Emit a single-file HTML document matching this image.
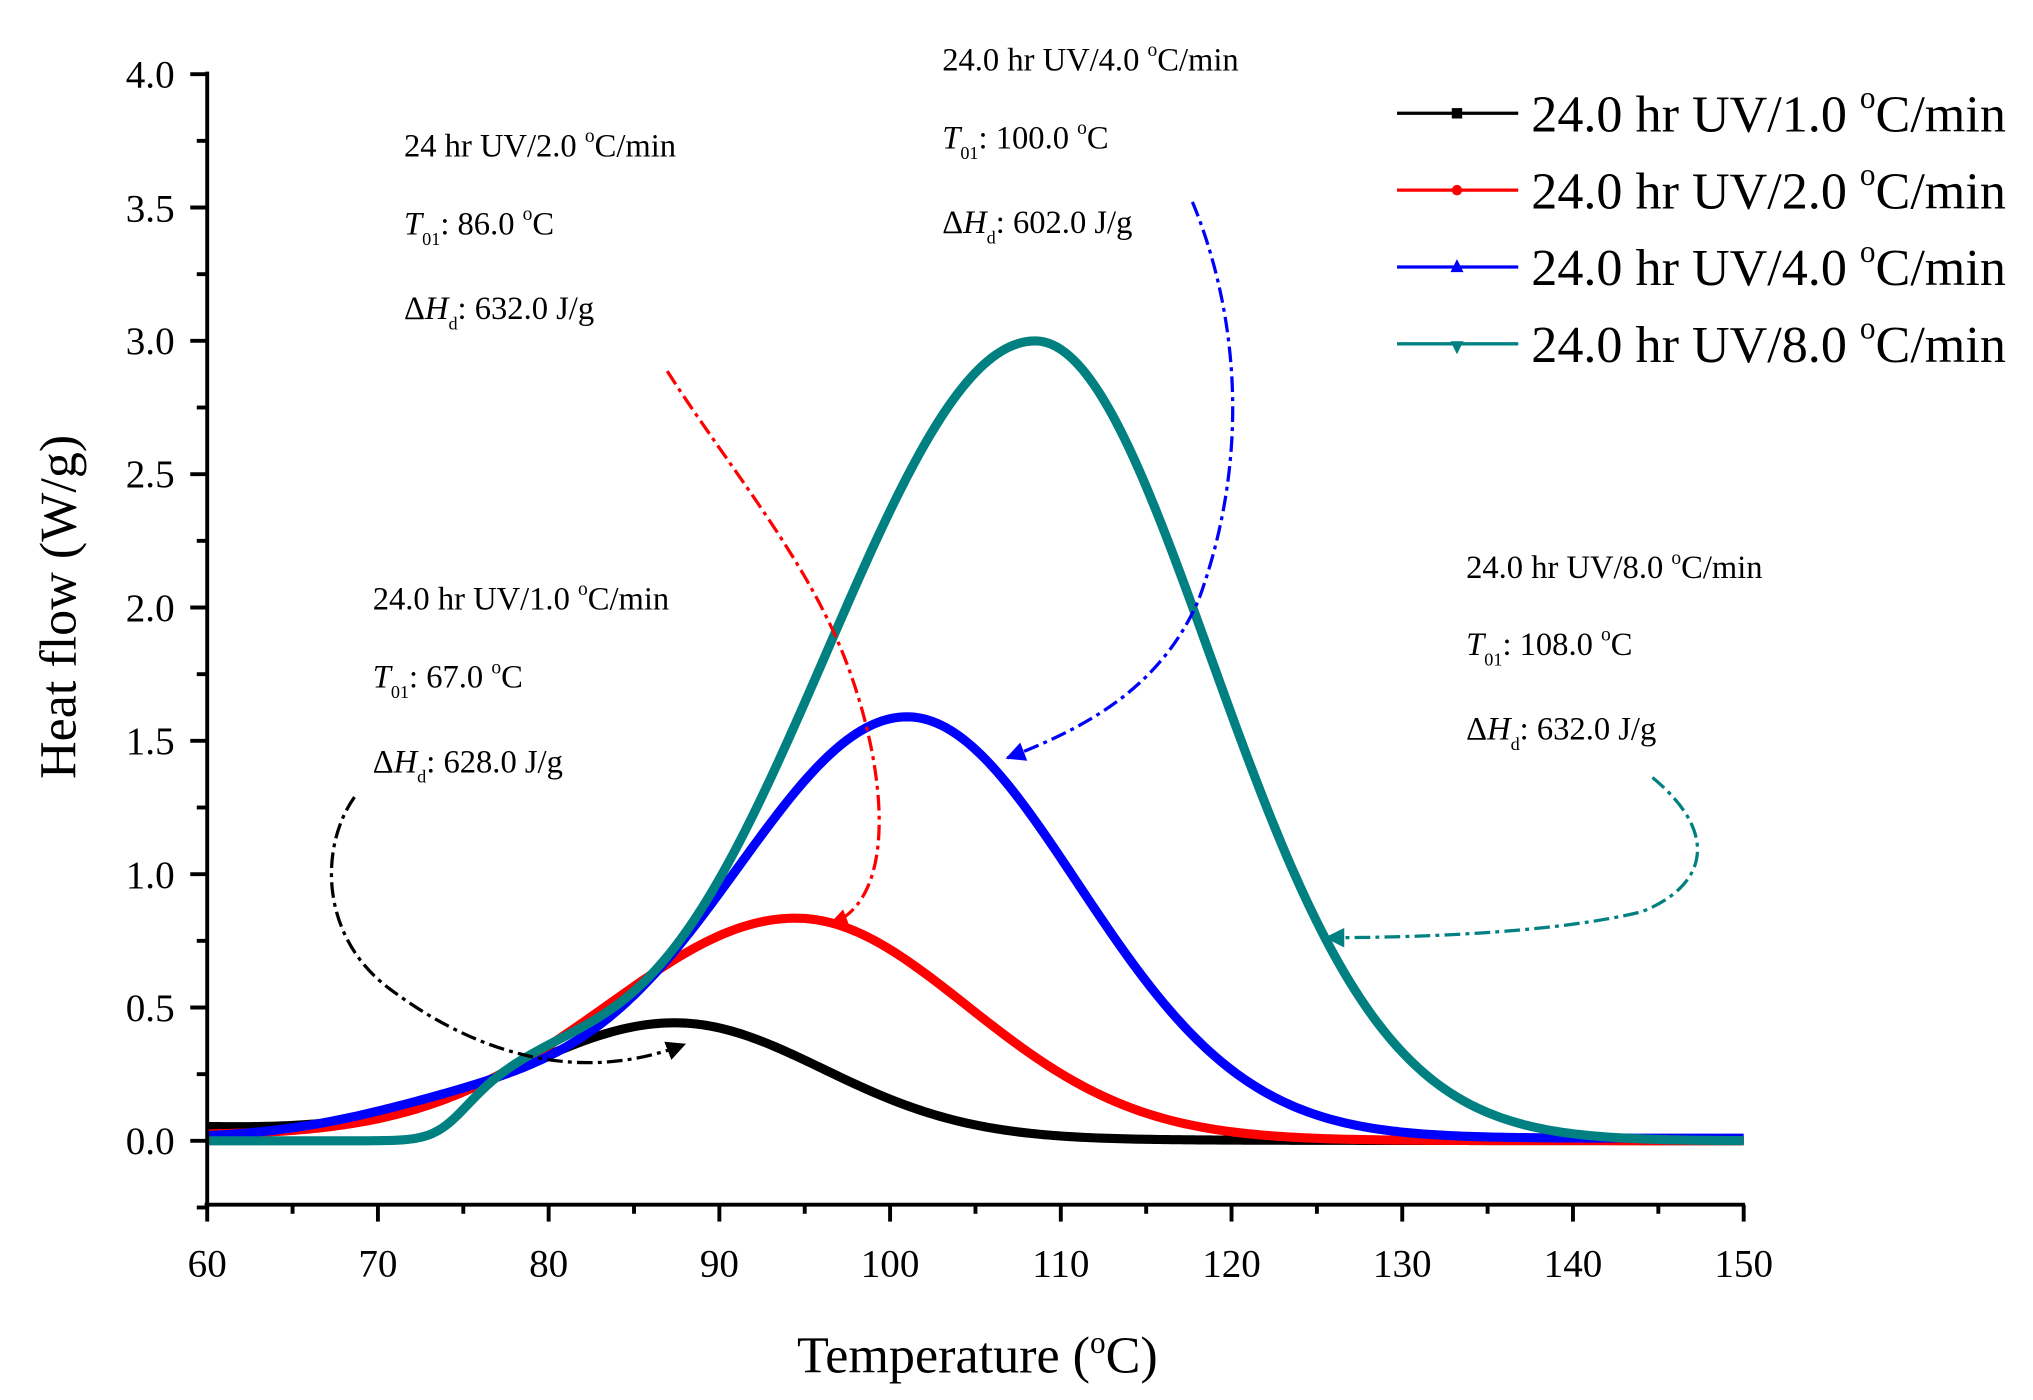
<!DOCTYPE html>
<html><head><meta charset="utf-8"><style>
html,body{margin:0;padding:0;background:#fff;}
svg{display:block;}
text{font-family:"Liberation Serif",serif;fill:#000;}
</style></head><body>
<svg id="s" width="2033" height="1400" viewBox="0 0 1560 1075" preserveAspectRatio="none" xmlns="http://www.w3.org/2000/svg">
<defs>
<marker id="ak" viewBox="0 0 10 10" refX="9" refY="5" markerWidth="6" markerHeight="6" orient="auto"><path d="M0,0 L10,5 L0,10 z" fill="#000"/></marker>
<marker id="ar" viewBox="0 0 10 10" refX="9" refY="5" markerWidth="6" markerHeight="6" orient="auto"><path d="M0,0 L10,5 L0,10 z" fill="#f00"/></marker>
<marker id="ab" viewBox="0 0 10 10" refX="9" refY="5" markerWidth="6" markerHeight="6" orient="auto"><path d="M0,0 L10,5 L0,10 z" fill="#00f"/></marker>
<marker id="at" viewBox="0 0 10 10" refX="9" refY="5" markerWidth="6" markerHeight="6" orient="auto"><path d="M0,0 L10,5 L0,10 z" fill="#008080"/></marker>
</defs>
<g id="curves"></g>
<g stroke="#000" stroke-width="3" fill="none">
<line x1="159" y1="55" x2="159" y2="927"/>
<line x1="157" y1="925" x2="1339" y2="925"/>
</g>
<g id="ticks" stroke="#000" stroke-width="3"></g>
<g font-size="30" text-anchor="end">
<text x="134" y="67">4.0</text><text x="134" y="170">3.5</text><text x="134" y="272">3.0</text><text x="134" y="374">2.5</text><text x="134" y="477">2.0</text><text x="134" y="579">1.5</text><text x="134" y="682">1.0</text><text x="134" y="784">0.5</text><text x="134" y="886">0.0</text>
</g>
<g font-size="30" text-anchor="middle">
<text x="159" y="980">60</text><text x="290" y="980">70</text><text x="421" y="980">80</text><text x="552" y="980">90</text><text x="683" y="980">100</text><text x="814" y="980">110</text><text x="945" y="980">120</text><text x="1076" y="980">130</text><text x="1207" y="980">140</text><text x="1338" y="980">150</text>
</g>
<text x="750" y="1054" font-size="40" text-anchor="middle">Temperature (<tspan dy="-15" font-size="24">o</tspan><tspan dy="15">C)</tspan></text>
<text transform="translate(58,466) rotate(-90)" font-size="40" text-anchor="middle">Heat flow (W/g)</text>
<g stroke-width="2.5">
<line x1="1072" y1="87" x2="1165" y2="87" stroke="#000"/><rect x="1114" y="83" width="8" height="8" fill="#000"/>
<line x1="1072" y1="146" x2="1165" y2="146" stroke="#f00"/><circle cx="1118" cy="146" r="4" fill="#f00"/>
<line x1="1072" y1="205" x2="1165" y2="205" stroke="#00f"/><path d="M1113,209 L1118,199 L1123,209 z" fill="#00f"/>
<line x1="1072" y1="264" x2="1165" y2="264" stroke="#008080"/><path d="M1113,262 L1118,272 L1123,262 z" fill="#008080"/>
</g>
<g font-size="40">
<text x="1175" y="101">24.0 hr UV/1.0 <tspan dy="-18" font-size="24">o</tspan><tspan dy="18">C/min</tspan></text>
<text x="1175" y="160">24.0 hr UV/2.0 <tspan dy="-18" font-size="24">o</tspan><tspan dy="18">C/min</tspan></text>
<text x="1175" y="219">24.0 hr UV/4.0 <tspan dy="-18" font-size="24">o</tspan><tspan dy="18">C/min</tspan></text>
<text x="1175" y="278">24.0 hr UV/8.0 <tspan dy="-18" font-size="24">o</tspan><tspan dy="18">C/min</tspan></text>
</g>
<g font-size="25">
<text x="310" y="120">24 hr UV/2.0 <tspan dy="-11" font-size="15">o</tspan><tspan dy="11">C/min</tspan></text>
<text x="310" y="180"><tspan font-style="italic">T</tspan><tspan dy="8" font-size="14">01</tspan><tspan dy="-8">: 86.0 </tspan><tspan dy="-11" font-size="15">o</tspan><tspan dy="11">C</tspan></text>
<text x="310" y="245">Δ<tspan font-style="italic">H</tspan><tspan dy="8" font-size="14">d</tspan><tspan dy="-8">: 632.0 J/g</tspan></text>

<text x="723" y="54">24.0 hr UV/4.0 <tspan dy="-11" font-size="15">o</tspan><tspan dy="11">C/min</tspan></text>
<text x="723" y="114"><tspan font-style="italic">T</tspan><tspan dy="8" font-size="14">01</tspan><tspan dy="-8">: 100.0 </tspan><tspan dy="-11" font-size="15">o</tspan><tspan dy="11">C</tspan></text>
<text x="723" y="179">Δ<tspan font-style="italic">H</tspan><tspan dy="8" font-size="14">d</tspan><tspan dy="-8">: 602.0 J/g</tspan></text>

<text x="286" y="468">24.0 hr UV/1.0 <tspan dy="-11" font-size="15">o</tspan><tspan dy="11">C/min</tspan></text>
<text x="286" y="528"><tspan font-style="italic">T</tspan><tspan dy="8" font-size="14">01</tspan><tspan dy="-8">: 67.0 </tspan><tspan dy="-11" font-size="15">o</tspan><tspan dy="11">C</tspan></text>
<text x="286" y="593">Δ<tspan font-style="italic">H</tspan><tspan dy="8" font-size="14">d</tspan><tspan dy="-8">: 628.0 J/g</tspan></text>

<text x="1125" y="444">24.0 hr UV/8.0 <tspan dy="-11" font-size="15">o</tspan><tspan dy="11">C/min</tspan></text>
<text x="1125" y="503"><tspan font-style="italic">T</tspan><tspan dy="8" font-size="14">01</tspan><tspan dy="-8">: 108.0 </tspan><tspan dy="-11" font-size="15">o</tspan><tspan dy="11">C</tspan></text>
<text x="1125" y="568">Δ<tspan font-style="italic">H</tspan><tspan dy="8" font-size="14">d</tspan><tspan dy="-8">: 632.0 J/g</tspan></text>
</g>
<g fill="none" stroke-width="2.5" stroke-dasharray="12,4,3,4">
<path d="M272,612 C245,650 245,720 300,760 C360,805 440,835 525,802" stroke="#000" marker-end="url(#ak)"/>
<path d="M512,285 C560,360 620,430 650,510 C680,590 690,690 637,710" stroke="#f00" marker-end="url(#ar)"/>
<path d="M915,155 C950,240 960,350 920,460 C890,530 830,560 773,582" stroke="#00f" marker-end="url(#ab)"/>
<path d="M1268,597 C1320,640 1310,680 1260,700 C1200,715 1100,720 1018,720" stroke="#008080" marker-end="url(#at)"/>
</g>
</svg>
<script>
var X=function(t){return 159+(t-60)*13.1;},Y=function(v){return 876-v*204.75;};
function G(x,m,sl,sr){var s=x<m?sl:sr;return Math.exp(-(x-m)*(x-m)/(2*s*s));}
var fns={
"#000":function(x){return 0.43*G(x,87.5,9,8.6)+0.05*Math.exp(-(x-60)/20);},
"#f00":function(x){return 0.83*G(x,94.5,11,10)+0.02*Math.exp(-(x-60)/25);},
"#00f":function(x){return 1.58*G(x,101,10.4,9.96)+0.12*Math.exp(-(x-76)*(x-76)/98)+0.01;},
"#008080":function(x){var sg=1/(1+Math.exp(-(x-74.5)/1.0));return (3*G(x,108.5,12.3,10.25)+0.16*Math.exp(-(x-79)*(x-79)/50))*sg;}};
var g=document.getElementById('curves'),ns="http://www.w3.org/2000/svg";
for(var c in fns){var d="";for(var x=60;x<=150.001;x+=0.25){d+=(x==60?"M":" L")+X(x).toFixed(2)+","+Y(fns[c](x)).toFixed(2);}
var e=document.createElementNS(ns,"path");e.setAttribute("d",d);e.setAttribute("fill","none");e.setAttribute("stroke",c);e.setAttribute("stroke-width","7");e.setAttribute("stroke-linejoin","round");g.appendChild(e);}
var t=document.getElementById('ticks');
function L(a,b,c2,d2){var e=document.createElementNS(ns,"line");e.setAttribute("x1",a);e.setAttribute("y1",b);e.setAttribute("x2",c2);e.setAttribute("y2",d2);t.appendChild(e);}
for(var k=0;k<=17;k++){var y=876-k*51.19+51.19;var v=-0.25+k*0.25;var major=Math.abs(v*2-Math.round(v*2))<1e-6;L(major?146:151,y,159,y);}
for(var k=0;k<=18;k++){var x=159+k*65.5;L(x,925,x,k%2==0?938:932);}
</script>
</body></html>
